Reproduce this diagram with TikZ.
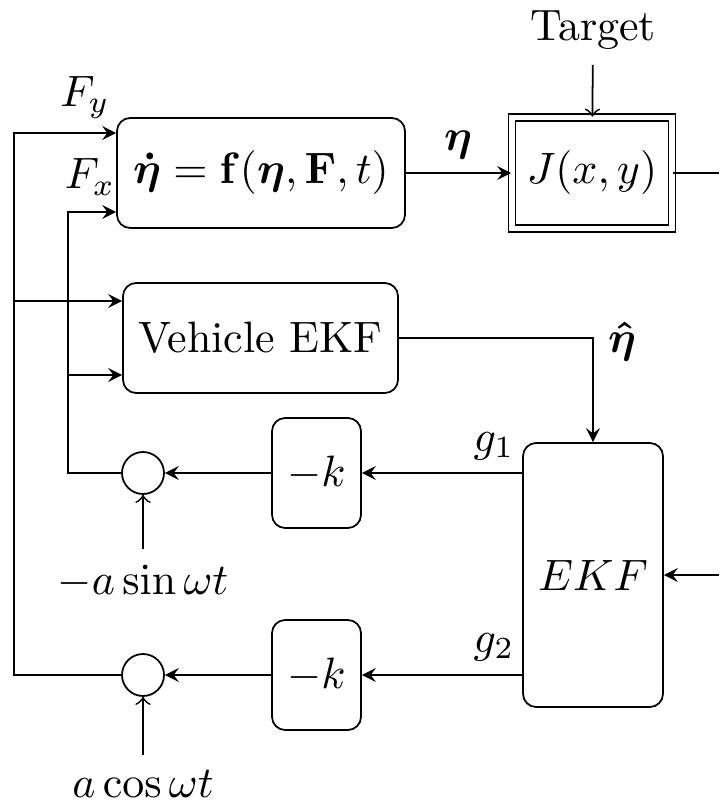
\documentclass[tikz,border=0pt]{standalone}
\usepackage{amsmath,amssymb}
\usepackage{tikz}
\usetikzlibrary{positioning}
\begin{document}
\begin{tikzpicture}[blk/.style={draw,rounded corners=3pt,minimum height=0.88cm,inner sep=0},
  sumc/.style={draw,circle,minimum size=0.336cm,inner sep=0},
  sig/.style={-stealth}]
\useasboundingbox(0,0)rectangle(5.752,-6.456);
% blocs
\node[blk,minimum width=2.304cm](dyn)at(2.088,-1.384){$\boldsymbol{\dot{\eta}}=\mathbf{f}(\boldsymbol{\eta},\mathbf{F},t)$};
\node[draw,double,double distance=1.2pt,minimum width=1.28cm,minimum height=0.888cm](J)at(4.736,-1.384){$J(x,y)$};
\node[blk,minimum width=2.2cm](veh)at(2.084,-2.704){Vehicle EKF};
\node[blk,minimum width=1.12cm,minimum height=2.112cm](ekf)at(4.744,-4.6){$EKF$};
\node[blk,minimum width=0.712cm](km1)at(2.532,-3.784){$-k$};
\node[blk,minimum width=0.712cm](km2)at(2.532,-5.4){$-k$};
\node[sumc](sum1)at(1.144,-3.784){};
\node[sumc](sum2)at(1.144,-5.4){};
% entrees
\node(target)at(4.744,-0.24){Target};
\node(sinin)at(1.144,-4.65){$-a\sin\omega t$};
\node(cosin)at(1.144,-6.27){$a\cos\omega t$};
\coordinate(jout)at(5.752,-1.384);
\coordinate(ekfin)at(5.752,-4.6);
\coordinate(fx)at(0.544,-1.696);
\coordinate(fxv)at(0.544,-3.0);
\coordinate(fy)at(0.112,-1.064);
\coordinate(fyv)at(0.112,-2.408);
% liaisons
\draw[->](target)--(J);
\draw[sig](dyn)--(J);
\draw(J)--(jout);
\draw[sig](veh.east)-|(ekf.north);
\draw[sig](ekfin)--(ekf);
\draw[sig](ekf.west|-km1)--(km1);
\draw[sig](ekf.west|-km2)--(km2);
\draw[sig](km1)--(sum1);
\draw[sig](km2)--(sum2);
\draw[->](sinin)--(sum1);
\draw[->](cosin)--(sum2);
\draw[sig](sum1.west)-|(fx)--(dyn.west|-fx);
\draw[sig](fxv)--(veh.west|-fxv);
\draw[sig](sum2.west)-|(fy)--(dyn.west|-fy);
\draw[sig](fyv)--(veh.west|-fyv);
% etiquettes
\node(eta)at(3.664,-1.16){$\boldsymbol{\eta}$};
\node(etahat)at(4.976,-2.736){$\boldsymbol{\hat{\eta}}$};
\node(g1)at(3.952,-3.568){$g_1$};
\node(g2)at(3.952,-5.176){$g_2$};
\node(Fy)at(0.68,-0.78){$F_y$};
\node[inner sep=1pt](Fx)at(0.72,-1.416){$F_x$};
\end{tikzpicture}
\end{document}
